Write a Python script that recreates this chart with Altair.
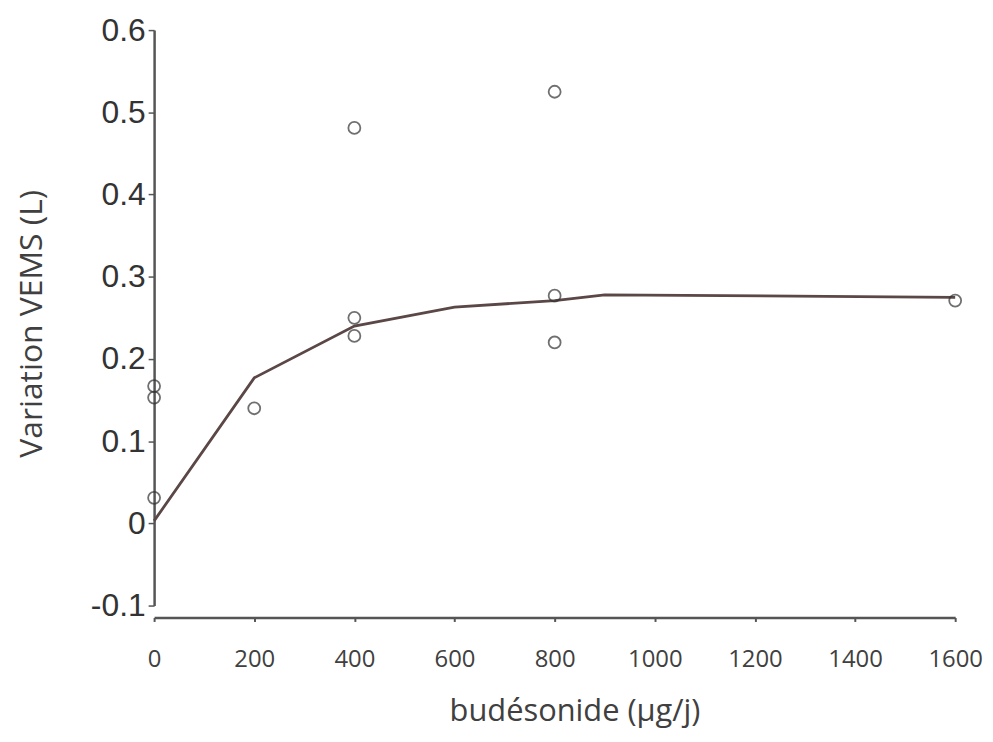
import altair as alt
import pandas as pd

# Observed points
dose_pts = [0, 0, 0, 200, 400, 400, 400, 800, 800, 800, 1600]
fev_pts = [0.167, 0.153, 0.031, 0.140, 0.481, 0.250, 0.228, 0.525, 0.277, 0.220, 0.271]

# Fitted curve
dose_fit = [0, 200, 400, 600, 800, 900, 1600]
fev_fit = [0.003, 0.177, 0.240, 0.263, 0.271, 0.278, 0.275]

x_ticks = [0, 200, 400, 600, 800, 1000, 1200, 1400, 1600]
y_ticks = [-0.1, 0, 0.1, 0.2, 0.3, 0.4, 0.5, 0.6]

pts = pd.DataFrame({"dose": dose_pts, "fev": fev_pts})
fit = pd.DataFrame({"dose": dose_fit, "fev": fev_fit})

x_scale = alt.Scale(domain=[0, 1600], nice=False, zero=False)
y_scale = alt.Scale(domain=[-0.1, 0.6], nice=False, zero=False)

x_axis = alt.Axis(
    values=x_ticks, format="d", title="budésonide (µg/j)", grid=False, offset=12,
    labelFlush=False, labelOverlap=False,
    domainColor="#555555", domainWidth=2.5, tickColor="#555555", tickSize=4, tickWidth=2,
    labelFont="Open Sans", labelFontSize=24, labelColor="#404040", labelPadding=26,
    titleFont="Open Sans", titleFontSize=31, titleFontWeight="normal", titleColor="#404040",
    titlePadding=26, titleX=423,
)
y_axis = alt.Axis(
    values=y_ticks, title="Variation VEMS (L)", grid=False,
    labelFlush=False, labelOverlap=False,
    domainColor="#555555", domainWidth=2.5, tickColor="#555555", tickSize=6, tickWidth=1.5,
    labelFont="Liberation Sans", labelFontSize=32, labelColor="#333333", labelPadding=3,
    labelExpr="datum.value == 0 ? '0' : (datum.value < 0 ? '-' : '') + format(abs(datum.value), '.1f')",
    titleFont="Open Sans", titleFontSize=32, titleFontWeight="normal", titleColor="#404040",
    titlePadding=42, titleY=295,
)

line = alt.Chart(fit).mark_line(color="#5a4746", strokeWidth=2.8).encode(
    x=alt.X("dose:Q", scale=x_scale, axis=x_axis),
    y=alt.Y("fev:Q", scale=y_scale, axis=y_axis),
)

points = alt.Chart(pts).mark_point(
    shape="circle", filled=False, size=145, color="#333333", strokeWidth=1.8
).encode(
    x=alt.X("dose:Q", scale=x_scale),
    y=alt.Y("fev:Q", scale=y_scale),
)

chart = alt.layer(line, points).properties(
    width=806, height=579,
    autosize=alt.AutoSizeParams(type="none"),
    padding={"left": 147, "top": 20, "right": 30, "bottom": 126},
    background="white",
).configure_view(stroke=None)

chart.save("out.html", embed_options={"renderer": "svg", "actions": False})
